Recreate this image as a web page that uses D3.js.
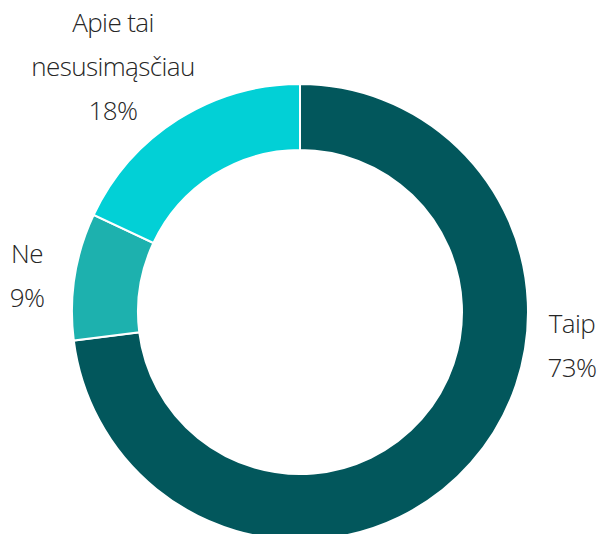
<!DOCTYPE html>
<html><head><meta charset="utf-8">
<script src="https://cdn.jsdelivr.net/npm/d3@7"></script>
<style>body{margin:0;background:#fff}svg{display:block}</style>
</head><body>
<script>
const categories = ["Taip", "Ne", "Apie tai nesusimąsčiau"];
const labelLines = [["Taip"], ["Ne"], ["Apie tai", "nesusimąsčiau"]];
const values = [73, 9, 18];
const colors = ["#02575c", "#1db1ae", "#02d0d6"];

const W = 600, H = 534;
const cx = 300, cy = 312, rOuter = 228, rInner = 162;
const svg = d3.select("body").append("svg").attr("width", W).attr("height", H);
const g = svg.append("g").attr("transform", `translate(${cx},${cy})`);

const pie = d3.pie().sort(null).value(d => d)(values);
const arc = d3.arc().innerRadius(rInner).outerRadius(rOuter);
g.selectAll("path").data(pie).join("path")
  .attr("d", arc).attr("fill", (d, i) => colors[i])
  .attr("stroke", "#fff").attr("stroke-width", 2);

// label anchor positions (x center, first baseline) relative to chart center
const labelPos = [[272, 21], [-273, -49], [-187, -280]];
const lh = 44;
pie.forEach((d, i) => {
  const lines = labelLines[i].concat([values[i] + "%"]);
  const t = svg.append("text")
    .attr("font-family", "'Open Sans', sans-serif")
    .attr("font-weight", 300)
    .attr("font-size", 26)
    .attr("letter-spacing", -0.6)
    .attr("fill", "#262626")
    .attr("text-anchor", "middle");
  lines.forEach((s, j) => {
    t.append("tspan").attr("x", cx + labelPos[i][0]).attr("y", cy + labelPos[i][1] + j * lh).text(s);
  });
});
</script>
</body></html>
